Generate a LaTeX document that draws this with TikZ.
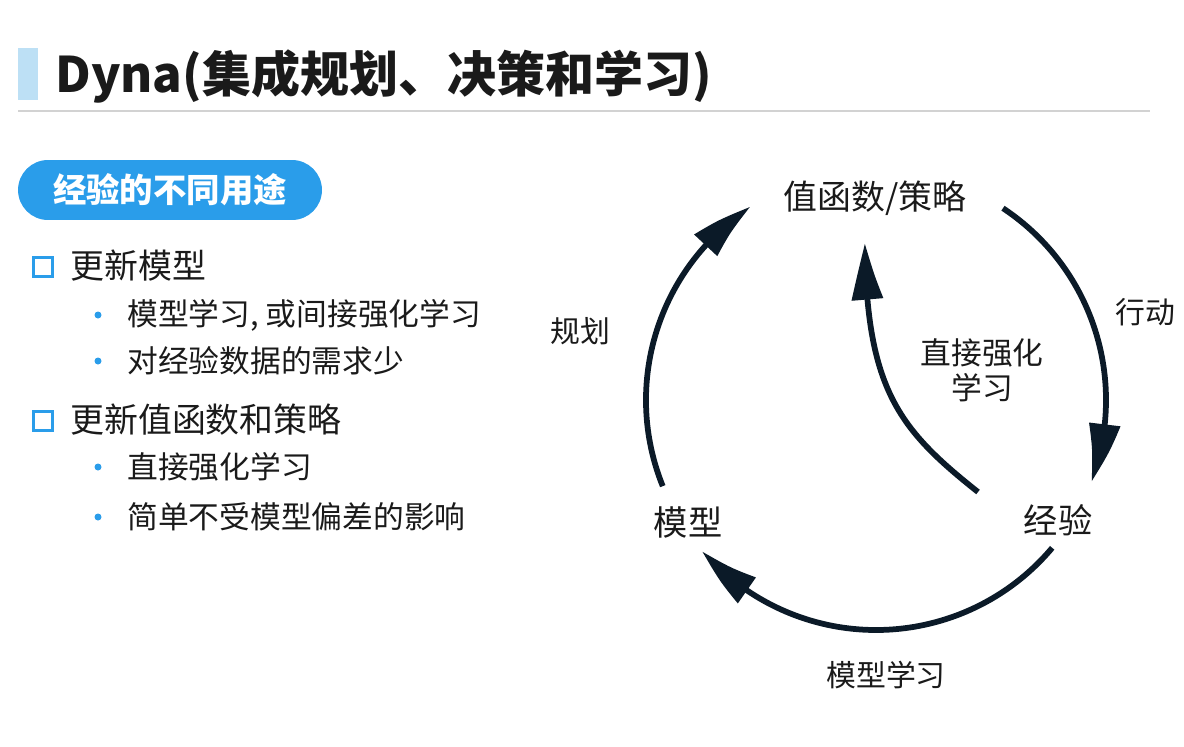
\documentclass[tikz,border=0pt]{standalone}
\usepackage{fontspec}
\setmainfont{Noto Sans CJK SC}
\usetikzlibrary{arrows.meta,bending}
\definecolor{accent}{HTML}{2A9DEA}
\definecolor{accentlight}{HTML}{BDE0F5}
\definecolor{loopink}{HTML}{0B1A28}
\definecolor{textink}{HTML}{1A1A1A}

\begin{document}
\begin{tikzpicture}[x=0.02cm,y=-0.02cm,
  every node/.style={inner sep=0pt,text=textink},
  itemA/.style={anchor=west,font=\fontsize{19.3}{23}\selectfont},
  itemB/.style={anchor=west,font=\fontsize{17.5}{21}\selectfont},
  looplbl/.style={font=\fontsize{17}{20}\selectfont},
  loopnode/.style={font=\fontsize{19.5}{23}\selectfont},
  cyclearrow/.style={line width=0.115cm,draw=loopink,
    -{Triangle[length=1.2cm,width=0.6cm,bend]}}]
  % Page frame — fixes the margins
  \useasboundingbox (0,0) rectangle (1184,747);
  % Title with accent bar and rule
  \fill[accentlight] (18,48) rectangle (38,100);
  \node[anchor=west,font=\bfseries\fontsize{27.9}{32}\selectfont] (title) at (55,76) {Dyna(集成规划、决策和学习)};
  \draw[gray!35,line width=0.04cm] (18,111) -- (1150,111);
  % Left column
  \node[fill=accent,rounded corners=0.6cm,minimum width=6.08cm,minimum height=1.2cm,
    text=white,font=\bfseries\fontsize{19}{22}\selectfont] (uses) at (170,190) {经验的不同用途};
  \node[draw=accent,line width=0.065cm,minimum size=0.38cm] (sqA) at (43,267) {};
  \node[itemA] (updModel) at (70,266) {更新模型};
  \node[draw=accent,line width=0.065cm,minimum size=0.38cm] (sqB) at (43,421) {};
  \node[itemA] (updValue) at (70,420) {更新值函数和策略};
  \foreach \y/\t in {315/{模型学习, 或间接强化学习},361/对经验数据的需求少,
                     467/直接强化学习,517/简单不受模型偏差的影响} {
    \fill[accent] (98,\y) circle (3.5);
    \node[itemB] (sub\y) at (127,\y) {\t};
  }
  % Dyna loop — center of the circle
  \coordinate (hub) at (876,400);
  \node[font=\fontsize{19.3}{23}\selectfont] (value) at (875,198) {值函数/策略};
  \node[loopnode] (model) at (688,522) {模型};
  \node[loopnode] (exp) at (1058,520) {经验};
  \node[looplbl] (act) at (1145,312) {行动};
  \node[looplbl] (plan) at (580,331) {规划};
  \node[looplbl,align=center,font=\fontsize{17.5}{20}\selectfont] (direct) at (982,370) {直接强化\\学习};
  \node[looplbl] (mlearn) at (886,675) {模型学习};
  \draw[cyclearrow] ([shift={(-202:230)}]hub) arc[start angle=-202,end angle=-123,radius=230];
  \draw[cyclearrow] ([shift={(-56.5:230)}]hub) arc[start angle=-56.5,end angle=20.8,radius=230];
  \draw[cyclearrow] ([shift={(40:230)}]hub) arc[start angle=40,end angle=139,radius=230];
  \coordinate (directFrom) at (978,492);
  \coordinate (directTo) at (865,243);
  \draw[cyclearrow] (directFrom) .. controls (900,430) and (866,390) .. (directTo);
\end{tikzpicture}
\end{document}
